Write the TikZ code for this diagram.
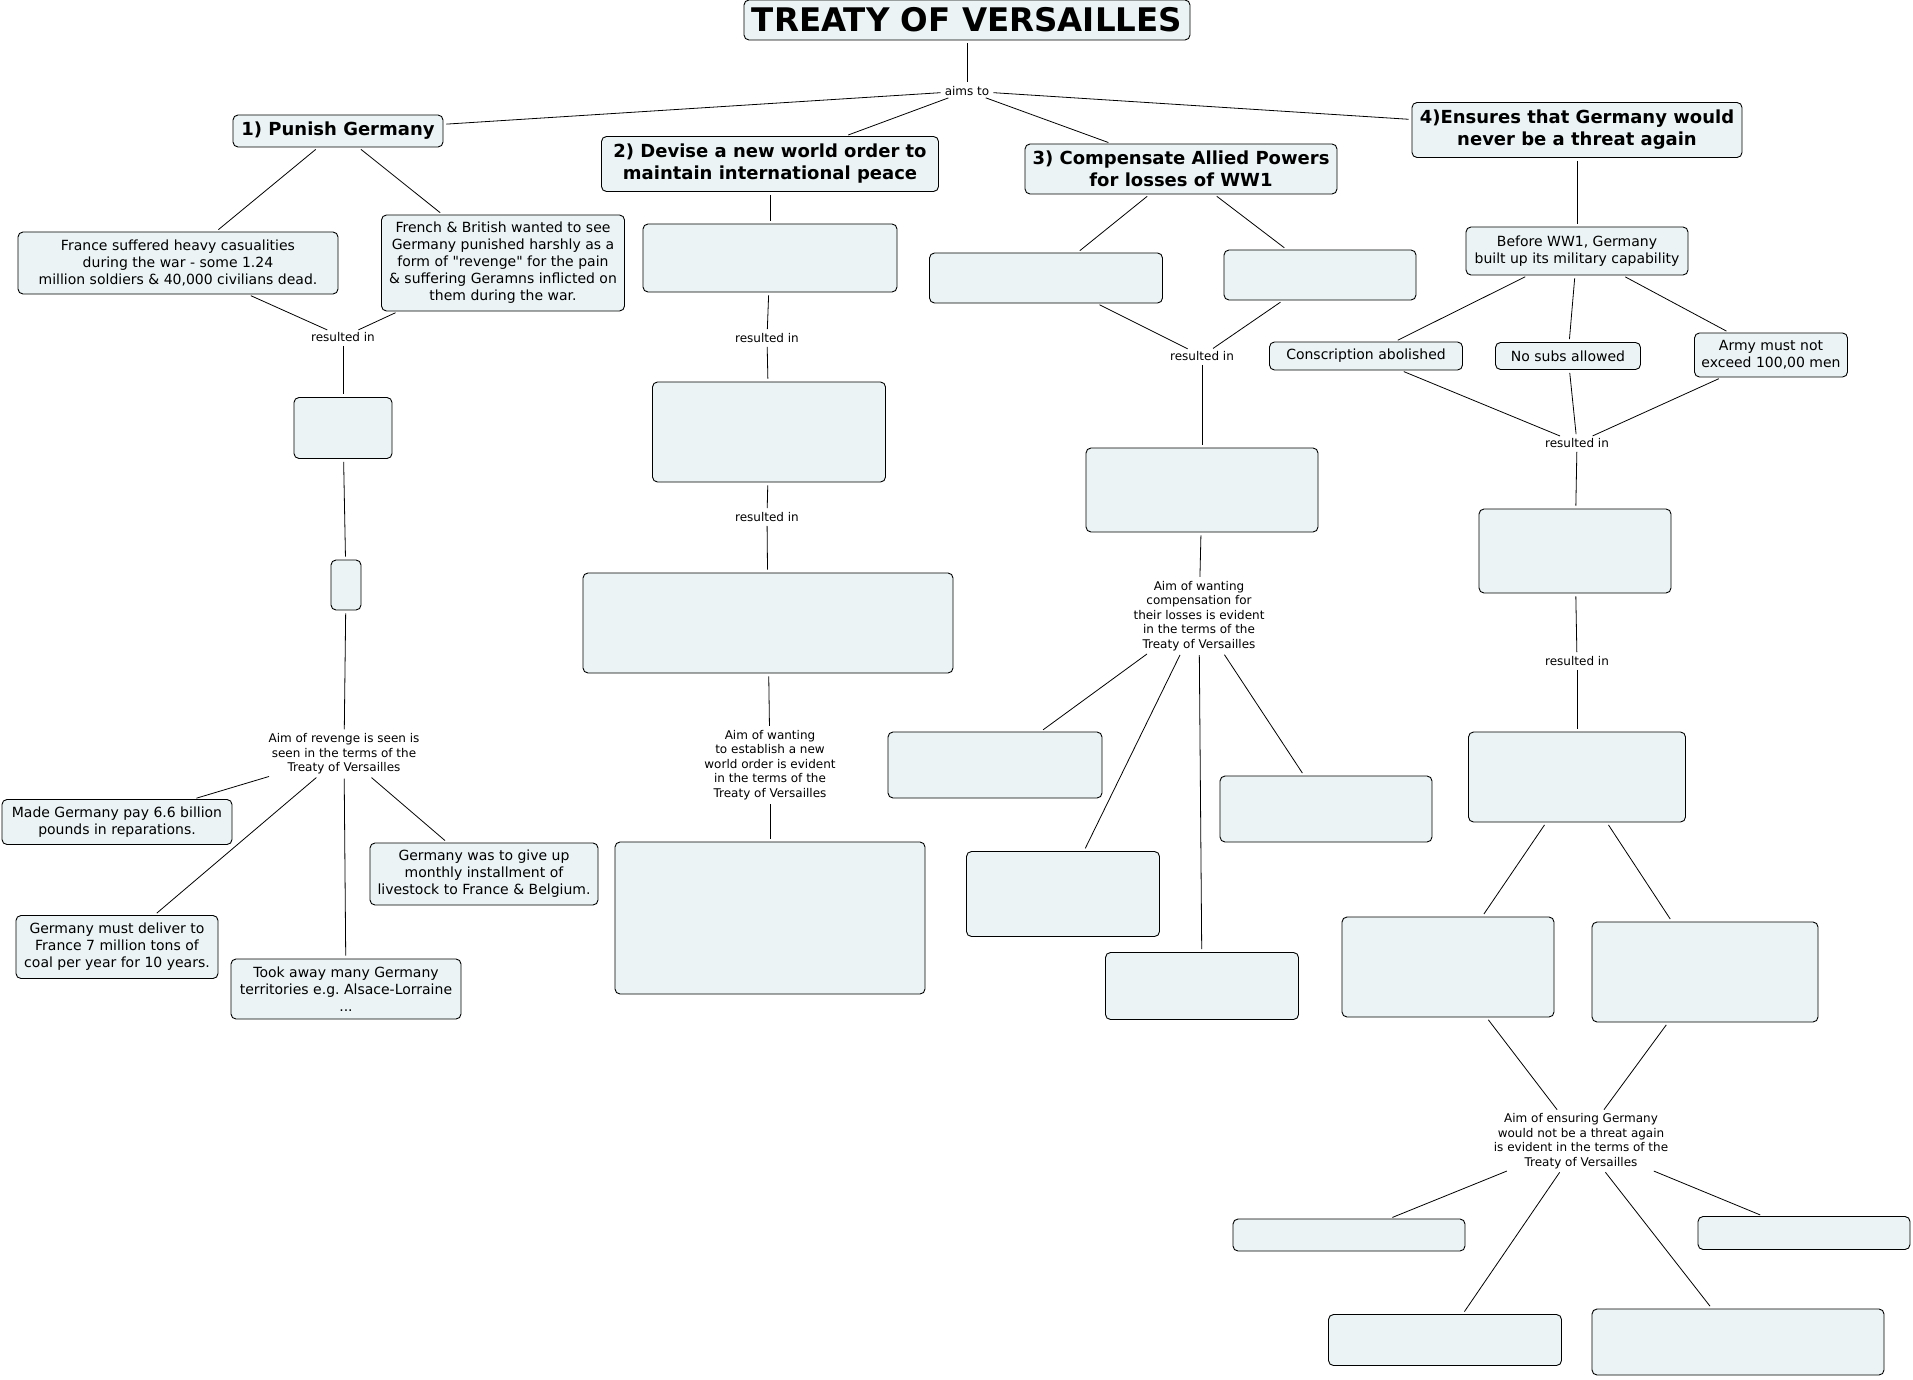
\documentclass[tikz,border=0pt]{standalone}
\usepackage{fontspec}
\setmainfont{DejaVu Sans}[Ligatures=TeXOff]
\usetikzlibrary{positioning}
\frenchspacing

\begin{document}
\begin{tikzpicture}[x=1pt, y=-1pt,
  concept/.style={draw, line width=0.9pt, rounded corners=5pt, fill=cfill,
    align=center, inner sep=2pt, font=\fontsize{14}{17}\selectfont},
  head/.style={concept, font=\fontsize{18}{22}\selectfont\bfseries},
  link/.style={align=center, inner sep=1pt, font=\fontsize{12}{14.6}\selectfont},
  conn/.style={line width=0.8pt, shorten <=3pt, shorten >=3pt}]
  \definecolor{cfill}{RGB}{235,243,245}
  \useasboundingbox (0,0) rectangle (1913,1380);
  % --- topo ---
  \node[concept, minimum width=446, minimum height=40,
    font=\fontsize{32.5}{36}\selectfont\bfseries] (tov) at (967,20) {TREATY OF VERSAILLES};
  \node[link] (aims) at (967,91) {aims to};
  \node[head, minimum width=210, minimum height=32] (p1) at (338,131) {1) Punish Germany};
  \node[head, minimum width=337, minimum height=55] (p2) at (770,164)
    {2) Devise a new world order to\\maintain international peace};
  \node[head, minimum width=312, minimum height=50] (p3) at (1181,169)
    {3) Compensate Allied Powers\\for losses of WW1};
  \node[head, minimum width=330, minimum height=55] (p4) at (1577,130)
    {4)Ensures that Germany would\\never be a threat again};
  \draw[conn] (tov) -- (aims);
  \foreach \p in {p1,p2,p3,p4}
    \draw[conn] (aims) -- (\p);
  % --- 1) punish ---
  \node[concept, minimum width=320, minimum height=62] (fra) at (178,263)
    {France suffered heavy casualities\\during the war - some 1.24\\million soldiers \& 40,000 civilians dead.};
  \node[concept, minimum width=243, minimum height=96] (fb) at (503,263)
    {French \& British wanted to see\\Germany punished harshly as a\\form of "revenge" for the pain\\\& suffering Geramns inflicted on\\them during the war.};
  \node[link] (r1) at (343,337) {resulted in};
  \node[concept, minimum width=98, minimum height=61] (e1) at (343,428) {};
  \node[concept, minimum width=30, minimum height=50] (e2) at (346,585) {};
  \node[link] (rev) at (344,754)
    {Aim of revenge is seen is\\seen in the terms of the\\Treaty of Versailles};
  \node[concept, minimum width=230, minimum height=45] (mg) at (117,822)
    {Made Germany pay 6.6 billion\\pounds in reparations.};
  \node[concept, minimum width=202, minimum height=63] (md) at (117,947)
    {Germany must deliver to\\France 7 million tons of\\coal per year for 10 years.};
  \node[concept, minimum width=230, minimum height=60] (ta) at (346,989)
    {Took away many Germany\\territories e.g. Alsace-Lorraine\\...};
  \node[concept, minimum width=228, minimum height=62] (gu) at (484,874)
    {Germany was to give up\\monthly installment of\\livestock to France \& Belgium.};
  \draw[conn] (p1) -- (fra);
  \draw[conn] (p1) -- (fb);
  \draw[conn] (fra) -- (r1);
  \draw[conn] (fb) -- (r1);
  \draw[conn] (r1) -- (e1);
  \draw[conn] (e1) -- (e2);
  \draw[conn] (e2) -- (rev);
  \foreach \t in {mg,md,ta,gu}
    \draw[conn] (rev) -- (\t);
  % --- 2) nova ordem ---
  \node[concept, minimum width=254, minimum height=68] (c2a) at (770,258) {};
  \node[link] (r2a) at (767,338) {resulted in};
  \node[concept, minimum width=233, minimum height=100] (c2b) at (769,432) {};
  \node[link] (r2b) at (767,517) {resulted in};
  \node[concept, minimum width=370, minimum height=100] (c2c) at (768,623) {};
  \node[link] (aim2) at (770,765)
    {Aim of wanting\\to establish a new\\world order is evident\\in the terms of the\\Treaty of Versailles};
  \node[concept, minimum width=310, minimum height=152] (c2d) at (770,918) {};
  \draw[conn] (p2) -- (c2a);
  \draw[conn] (c2a) -- (r2a);
  \draw[conn] (r2a) -- (c2b);
  \draw[conn] (c2b) -- (r2b);
  \draw[conn] (r2b) -- (c2c);
  \draw[conn] (c2c) -- (aim2);
  \draw[conn] (aim2) -- (c2d);
  % --- 3) compensacao ---
  \node[concept, minimum width=233, minimum height=50] (c3a) at (1046,278) {};
  \node[concept, minimum width=192, minimum height=50] (c3b) at (1320,275) {};
  \node[link] (r3) at (1202,356) {resulted in};
  \node[concept, minimum width=232, minimum height=84] (c3c) at (1202,490) {};
  \node[link] (aim3) at (1199,616)
    {Aim of wanting\\compensation for\\their losses is evident\\in the terms of the\\Treaty of Versailles};
  \node[concept, minimum width=214, minimum height=66] (c3d) at (995,765) {};
  \node[concept, minimum width=212, minimum height=66] (c3e) at (1326,809) {};
  \node[concept, minimum width=193, minimum height=85] (c3f) at (1063,894) {};
  \node[concept, minimum width=193, minimum height=67] (c3g) at (1202,986) {};
  \draw[conn] (p3) -- (c3a);
  \draw[conn] (p3) -- (c3b);
  \draw[conn] (c3a) -- (r3);
  \draw[conn] (c3b) -- (r3);
  \draw[conn] (r3) -- (c3c);
  \draw[conn] (c3c) -- (aim3);
  \foreach \t in {c3d,c3e,c3f,c3g}
    \draw[conn] (aim3) -- (\t);
  % --- 4) nunca mais ameaca ---
  \node[concept, minimum width=222, minimum height=48] (bef) at (1577,251)
    {Before WW1, Germany\\built up its military capability};
  \node[concept, minimum width=193, minimum height=28] (con) at (1366,356) {Conscription abolished};
  \node[concept, minimum width=145, minimum height=27] (nos) at (1568,356) {No subs allowed};
  \node[concept, minimum width=153, minimum height=44] (arm) at (1771,355)
    {Army must not\\exceed 100,00 men};
  \node[link] (r4a) at (1577,443) {resulted in};
  \node[concept, minimum width=192, minimum height=84] (c4a) at (1575,551) {};
  \node[link] (r4b) at (1577,661) {resulted in};
  \node[concept, minimum width=217, minimum height=90] (c4b) at (1577,777) {};
  \node[concept, minimum width=212, minimum height=100] (c4c) at (1448,967) {};
  \node[concept, minimum width=226, minimum height=100] (c4d) at (1705,972) {};
  \node[link] (aim4) at (1581,1141)
    {Aim of ensuring Germany\\would not be a threat again\\is evident in the terms of the\\Treaty of Versailles};
  \node[concept, minimum width=232, minimum height=32] (c4e) at (1349,1235) {};
  \node[concept, minimum width=212, minimum height=33] (c4f) at (1804,1233) {};
  \node[concept, minimum width=233, minimum height=51] (c4g) at (1445,1340) {};
  \node[concept, minimum width=292, minimum height=66] (c4h) at (1738,1342) {};
  \draw[conn] (p4) -- (bef);
  \foreach \t in {con,nos,arm}
    \draw[conn] (bef) -- (\t);
  \foreach \t in {con,nos,arm}
    \draw[conn] (\t) -- (r4a);
  \draw[conn] (r4a) -- (c4a);
  \draw[conn] (c4a) -- (r4b);
  \draw[conn] (r4b) -- (c4b);
  \draw[conn] (c4b) -- (c4c);
  \draw[conn] (c4b) -- (c4d);
  \draw[conn] (c4c) -- (aim4);
  \draw[conn] (c4d) -- (aim4);
  \foreach \t in {c4e,c4f,c4g,c4h}
    \draw[conn] (aim4) -- (\t);
\end{tikzpicture}
\end{document}
